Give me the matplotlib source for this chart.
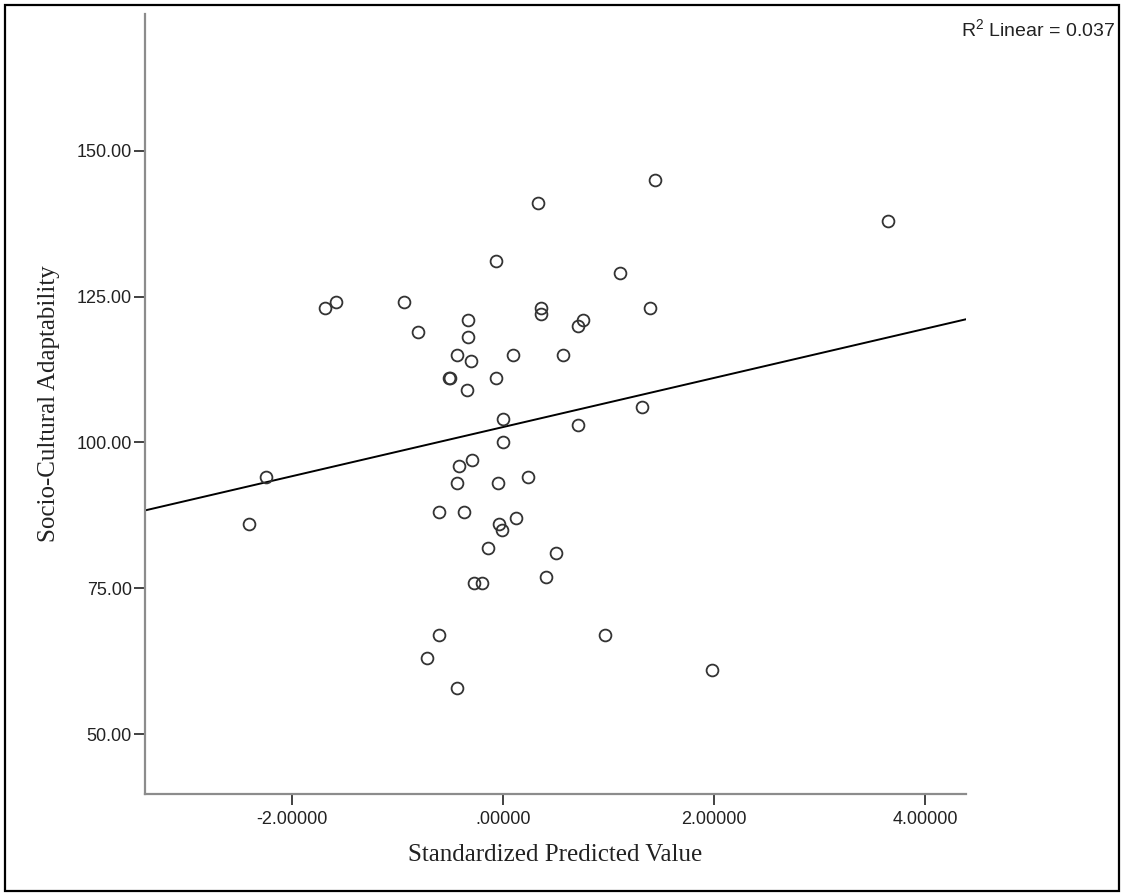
import numpy as np
import matplotlib
matplotlib.use("Agg")
import matplotlib.pyplot as plt
from matplotlib.patches import Rectangle

# ---- data ----
std_pred = [1.44, 0.334, -0.066, 1.108, -0.935, 1.39, 0.357, 0.357, -0.328, 0.76,
            0.707, -0.808, -0.328, -0.438, -0.303, 0.098, 0.565, -0.515, -0.505, -0.066,
            -0.344, 0.003, 0.707, 1.32, 0.003, -0.297, -0.417, -0.438, -0.044, 0.24,
            -0.603, -0.369, -0.038, -0.012, 0.123, -0.139, 0.499, -0.272, -0.202, 0.404,
            -0.603, 0.966, -0.723, -0.438, 3.649, -1.686, -1.585, -2.247, -2.41, 1.979]
adaptability = [145, 141, 131, 129, 124, 123, 123, 122, 121, 121,
                120, 119, 118, 115, 114, 115, 115, 111, 111, 111,
                109, 104, 103, 106, 100, 97, 96, 93, 93, 94,
                88, 88, 86, 85, 87, 82, 81, 76, 76, 77,
                67, 67, 63, 58, 138, 123, 124, 94, 86, 61]

xticks = [-2, 0, 2, 4]
xtick_labels = ["-2.00000", ".00000", "2.00000", "4.00000"]
yticks = [50, 75, 100, 125, 150]
ytick_labels = ["50.00", "75.00", "100.00", "125.00", "150.00"]
r2_label = r"$\mathregular{R^2}$ Linear = 0.037"
xlabel = "Standardized Predicted Value"
ylabel = "Socio-Cultural Adaptability"

plt.rcParams["font.family"] = ["Liberation Sans", "DejaVu Sans"]
plt.rcParams["mathtext.fontset"] = "custom"
plt.rcParams["mathtext.rm"] = "Liberation Sans"

W, H = 1125, 896
fig = plt.figure(figsize=(W / 100, H / 100), dpi=100)
fig.patch.set_facecolor("white")

left_px, right_px, bottom_px, top_px = 145, 965.7, 794, 14
ax = fig.add_axes([left_px / W, 1 - bottom_px / H,
                   (right_px - left_px) / W, (bottom_px - top_px) / H])

xmin, xmax = -3.392, 4.384
ymin, ymax = 39.77, 173.4
ax.set_xlim(xmin, xmax)
ax.set_ylim(ymin, ymax)

x = np.array(std_pred)
y = np.array(adaptability)
ax.plot(x, y, linestyle="none", marker="o", markersize=8.5,
        markerfacecolor="none", markeredgecolor="#333333", markeredgewidth=1.3,
        clip_on=False, zorder=3)

slope, intercept = np.polyfit(x, y, 1)
lx = np.array([xmin, xmax])
ax.plot(lx, intercept + slope * lx, color="black", linewidth=1.4, zorder=2)

for s in ["top", "right"]:
    ax.spines[s].set_visible(False)
for s in ["left", "bottom"]:
    ax.spines[s].set_color("#8c8c8c")
    ax.spines[s].set_linewidth(1.6)

ax.set_xticks(xticks)
ax.set_xticklabels(xtick_labels)
ax.set_yticks(yticks)
ax.set_yticklabels(ytick_labels)
ax.tick_params(axis="both", direction="out", length=8, width=1.3,
               color="#333333", labelsize=13, labelcolor="#222222")
ax.tick_params(axis="y", pad=1.5)
ax.tick_params(axis="x", pad=4)

ax.set_xlabel(xlabel, family="Liberation Serif", fontsize=18, color="#222222")
ax.xaxis.set_label_coords(0.5, -(844 - bottom_px) / (bottom_px - top_px))
ax.set_ylabel(ylabel, family="Liberation Serif", fontsize=18, color="#222222")
ax.yaxis.set_label_coords(-(left_px - 60.4) / (right_px - left_px), 0.5)

fig.text(1115 / W, 1 - 36 / H, r2_label, ha="right", va="baseline",
         fontsize=14, color="#222222")

fig.patches.append(Rectangle((5 / W, 5 / H), (1119 - 5) / W, (891 - 5) / H,
                             transform=fig.transFigure, fill=False,
                             edgecolor="black", linewidth=1.6))

fig.savefig("out.png", dpi=100, facecolor="white")
